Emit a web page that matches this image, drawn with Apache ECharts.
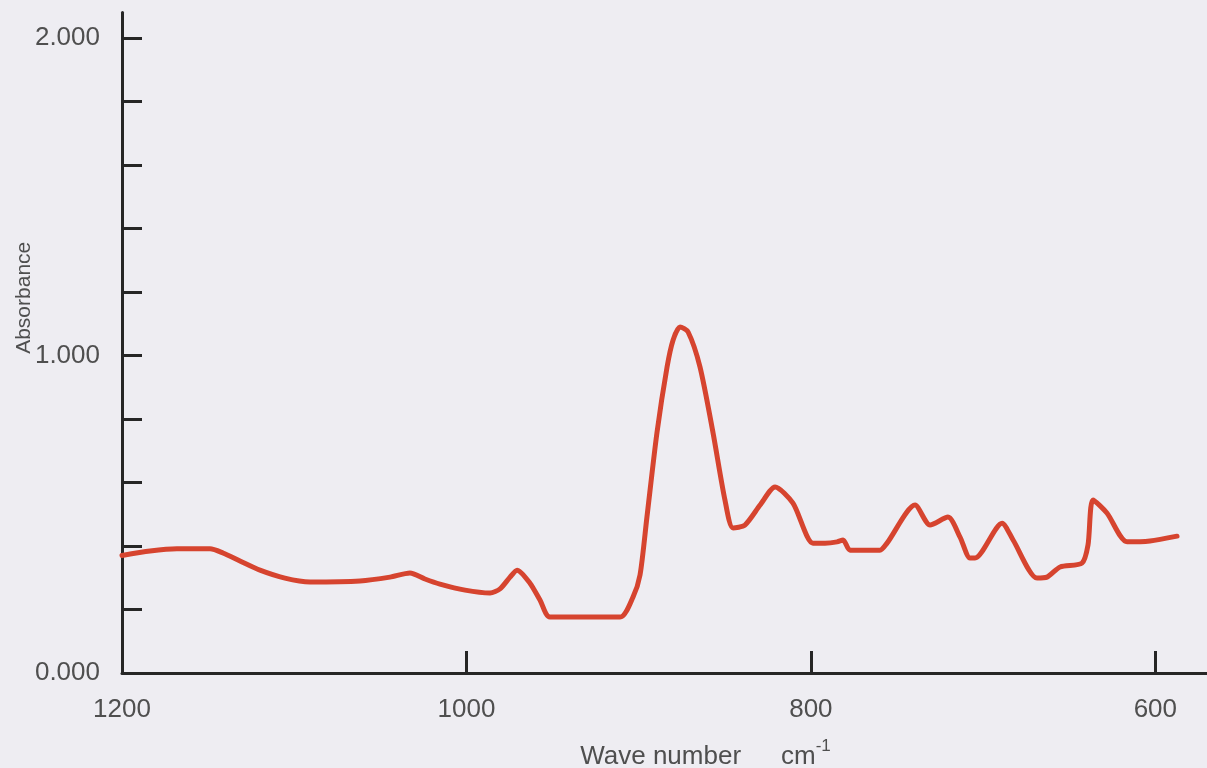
<!DOCTYPE html>
<html>
<head>
<meta charset="utf-8">
<title>Absorbance spectrum</title>
<script src="https://cdn.jsdelivr.net/npm/echarts@6/dist/echarts.min.js"></script>
<style>
  html, body { margin: 0; padding: 0; background: #eeedf2; }
  #chart { width: 1207px; height: 768px; }
</style>
</head>
<body>
<div id="chart"></div>
<script>
// Wave numbers (cm^-1) and absorbance readings of the spectrum trace
const waveNumbers = [
  1200, 1183.7, 1168.1, 1148.9, 1141.4, 1131.5, 1119.9, 1105.4, 1090.8, 1061.8,
  1044.4, 1032.8, 1024.1, 1015.4, 1000.8, 986.3, 980.5, 974.7, 970.6, 963.1,
  957.3, 951.5, 910.8, 903.3, 899.2, 895.2, 889.4, 883.5, 880.0, 876.0,
  871.3, 864.4, 856.8, 849.9, 845.2, 838.3, 829.5, 820.8, 810.4, 798.8,
  791.8, 784.8, 781.3, 777.3, 759.9, 755.8, 739.5, 730.8, 720.4, 713.4,
  707.6, 704.7, 689.0, 682.6, 668.7, 662.9, 655.3, 642.6, 639.1, 636.2,
  628.1, 616.4, 603.1, 587.4
];
const absorbance = [
  0.370, 0.384, 0.391, 0.391, 0.378, 0.353, 0.324, 0.299, 0.287, 0.290,
  0.302, 0.315, 0.296, 0.280, 0.261, 0.252, 0.265, 0.302, 0.324, 0.283,
  0.230, 0.176, 0.176, 0.239, 0.309, 0.491, 0.756, 0.964, 1.049, 1.090,
  1.074, 0.964, 0.756, 0.545, 0.457, 0.466, 0.529, 0.586, 0.535, 0.409,
  0.409, 0.413, 0.419, 0.387, 0.387, 0.409, 0.529, 0.466, 0.491, 0.428,
  0.362, 0.362, 0.472, 0.419, 0.299, 0.302, 0.334, 0.346, 0.403, 0.545,
  0.504, 0.413, 0.416, 0.431
];

// Axis ticks and labels
const xTickValues = [1000, 800, 600];
const xLabelValues = [1200, 1000, 800, 600];
const yTickValues = [0.2, 0.4, 0.6, 0.8, 1.0, 1.2, 1.4, 1.6, 1.8, 2.0];
const yLabelValues = [0, 1, 2];

const points = waveNumbers.map((w, i) => [w, absorbance[i]]);

const axisColor = '#262626';
const labelColor = '#4f4f4f';
const fontFamily = '"Liberation Sans", Arial, sans-serif';

const chart = echarts.init(document.getElementById('chart'), null, { renderer: 'canvas' });

chart.setOption({
  backgroundColor: '#eeedf2',
  animation: false,
  grid: {
    left: 122, right: 0, top: 12.6, bottom: 95,
    containLabel: false,
    outerBoundsMode: 'none'
  },
  xAxis: {
    type: 'value',
    inverse: true,
    min: 570,
    max: 1200,
    splitLine: { show: false },
    axisLine: { show: true, lineStyle: { color: axisColor, width: 3 } },
    axisTick: {
      show: true, inside: true, length: 22,
      customValues: xTickValues,
      lineStyle: { color: axisColor, width: 3 }
    },
    axisLabel: {
      customValues: xLabelValues,
      margin: 24,
      color: labelColor,
      fontSize: 26,
      fontFamily: fontFamily,
      formatter: v => String(v)
    },
    name: '{t|Wave number}{g|}{t|cm}{s|-1}',
    nameLocation: 'middle',
    nameGap: 65,
    nameMoveOverlap: false,
    nameTextStyle: {
      padding: [0, 0, 0, 82],
      rich: {
        t: { fontSize: 26, color: labelColor, fontFamily: fontFamily, lineHeight: 32, verticalAlign: 'bottom' },
        g: { width: 40 },
        s: { fontSize: 17, color: labelColor, fontFamily: fontFamily, lineHeight: 17, verticalAlign: 'top' }
      }
    }
  },
  yAxis: {
    type: 'value',
    min: 0,
    max: 2.08,
    splitLine: { show: false },
    axisLine: { show: true, lineStyle: { color: axisColor, width: 3 } },
    axisTick: {
      show: true, inside: true, length: 20,
      customValues: yTickValues,
      lineStyle: { color: axisColor, width: 3 }
    },
    axisLabel: {
      customValues: yLabelValues,
      margin: 22,
      color: labelColor,
      fontSize: 26,
      fontFamily: fontFamily,
      formatter: v => v.toFixed(3)
    },
    name: 'Absorbance',
    nameLocation: 'middle',
    nameGap: 87,
    nameMoveOverlap: false,
    nameTextStyle: {
      color: labelColor,
      fontSize: 21,
      fontFamily: fontFamily,
      padding: [0, 0, 0, 90]
    }
  },
  series: [{
    type: 'line',
    data: points,
    smooth: 0.25,
    showSymbol: false,
    symbol: 'none',
    lineStyle: { color: '#d6442f', width: 5, cap: 'round', join: 'round' }
  }]
});
</script>
</body>
</html>
